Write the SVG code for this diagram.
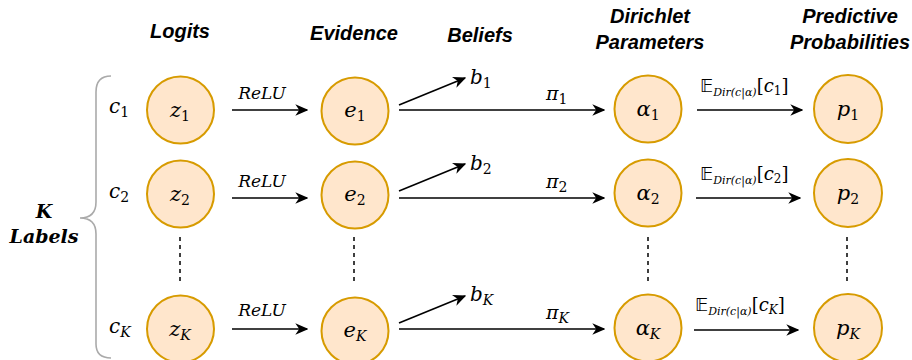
<svg xmlns="http://www.w3.org/2000/svg" width="912" height="360" viewBox="0 0 912 360">
<style>
.node{fill:#ffe6cc;stroke:#d79b00;stroke-width:2}
.m{font-family:"DejaVu Serif","Liberation Serif",serif;font-style:italic;fill:#000}
.n{font-family:"DejaVu Serif","Liberation Serif",serif;font-style:normal;fill:#000}
.kl{font-family:"DejaVu Serif","Liberation Serif",serif;font-style:italic;font-weight:bold;font-size:19px;text-anchor:middle;fill:#000}
.hdr{font-family:"Liberation Sans",Arial,sans-serif;font-weight:bold;font-style:italic;font-size:20px;text-anchor:middle;fill:#000}
.conn{stroke:#000;stroke-width:1.6;fill:none;marker-end:url(#ah)}
.dash{stroke:#000;stroke-width:1.5;stroke-dasharray:4 4;fill:none}
.lbl{text-anchor:middle}
</style>
<defs>
<marker id="ah" viewBox="0 0 10 10" refX="9" refY="5" markerWidth="13" markerHeight="13" markerUnits="userSpaceOnUse" orient="auto">
<path d="M0,0.5 L10,5 L0,9.5 L3,5 Z" fill="#000"/>
</marker>
</defs>
<rect width="912" height="360" fill="#fff"/>
<g id="headers">
<text class="hdr" x="180" y="38">Logits</text>
<text class="hdr" x="354" y="40">Evidence</text>
<text class="hdr" x="480" y="42">Beliefs</text>
<text class="hdr" x="650" y="23">Dirichlet</text>
<text class="hdr" x="650" y="49">Parameters</text>
<text class="hdr" x="850" y="23">Predictive</text>
<text class="hdr" x="850" y="49">Probabilities</text>
</g>
<g id="brace">
<path d="M111,76 Q96,76 96,92 L96,202 Q96,218 80,218 Q96,218 96,234 L96,344 Q96,358 111,358" fill="none" stroke="#aaaaaa" stroke-width="1.6"/>
<text class="kl" x="44" y="218">K</text>
<text class="kl" x="44" y="243">Labels</text>
</g>
<g id="class-labels">
<text class="m" x="109" y="113" font-size="20">c<tspan class="n" font-size="14" dy="4">1</tspan></text>
<text class="m" x="109" y="198" font-size="20">c<tspan class="n" font-size="14" dy="4">2</tspan></text>
<text class="m" x="109" y="333" font-size="20">c<tspan font-size="14" dy="4">K</tspan></text>
</g>
<g id="connectors">
<line class="conn" x1="232" y1="110" x2="307" y2="110"/>
<line class="conn" x1="232" y1="198" x2="307" y2="198"/>
<line class="conn" x1="232" y1="329" x2="307" y2="329"/>
<line class="conn" x1="399" y1="105" x2="465" y2="78"/>
<line class="conn" x1="399" y1="191" x2="465" y2="164"/>
<line class="conn" x1="399" y1="323" x2="465" y2="296"/>
<line class="conn" x1="399" y1="110" x2="604" y2="110"/>
<line class="conn" x1="399" y1="198" x2="604" y2="198"/>
<line class="conn" x1="399" y1="329" x2="604" y2="329"/>
<line class="conn" x1="697" y1="110" x2="802" y2="110"/>
<line class="conn" x1="696" y1="198" x2="800" y2="198"/>
<line class="conn" x1="694" y1="330" x2="798" y2="330"/>
<line class="dash" x1="180" y1="237" x2="180" y2="284"/>
<line class="dash" x1="354" y1="237" x2="354" y2="284"/>
<line class="dash" x1="648" y1="237" x2="648" y2="284"/>
<line class="dash" x1="847" y1="237" x2="847" y2="284"/>
</g>
<g id="edge-labels">
<text class="m lbl" x="262" y="99" font-size="17">ReLU</text>
<text class="m lbl" x="262" y="187" font-size="17">ReLU</text>
<text class="m lbl" x="262" y="316" font-size="17">ReLU</text>
<text class="m" x="470" y="84" font-size="20">b<tspan class="n" font-size="14" dy="4">1</tspan></text>
<text class="m" x="470" y="170" font-size="20">b<tspan class="n" font-size="14" dy="4">2</tspan></text>
<text class="m" x="470" y="301" font-size="20">b<tspan font-size="14" dy="4">K</tspan></text>
<text class="m" x="546" y="100" font-size="19">π<tspan class="n" font-size="14" dy="4">1</tspan></text>
<text class="m" x="546" y="188" font-size="19">π<tspan class="n" font-size="14" dy="4">2</tspan></text>
<text class="m" x="546" y="319" font-size="19">π<tspan font-size="14" dy="4">K</tspan></text>
<text class="n" x="700" y="92" font-size="18"><tspan font-family="DejaVu Sans,sans-serif">𝔼</tspan><tspan class="m" font-size="11" dy="4">Dir(c|α)</tspan><tspan dy="-4">[</tspan><tspan class="m">c</tspan><tspan font-size="12" dy="3">1</tspan><tspan dy="-3">]</tspan></text>
<text class="n" x="700" y="180" font-size="18"><tspan font-family="DejaVu Sans,sans-serif">𝔼</tspan><tspan class="m" font-size="11" dy="4">Dir(c|α)</tspan><tspan dy="-4">[</tspan><tspan class="m">c</tspan><tspan font-size="12" dy="3">2</tspan><tspan dy="-3">]</tspan></text>
<text class="n" x="695" y="311" font-size="18"><tspan font-family="DejaVu Sans,sans-serif">𝔼</tspan><tspan class="m" font-size="11" dy="4">Dir(c|α)</tspan><tspan dy="-4">[</tspan><tspan class="m">c</tspan><tspan class="m" font-size="12" dy="3">K</tspan><tspan dy="-3">]</tspan></text>
</g>
<g id="z1"><circle class="node" cx="180.5" cy="110" r="33.5"/><text class="m lbl" x="180" y="117" font-size="21">z<tspan class="n" font-size="14" dy="4">1</tspan></text></g>
<g id="z2"><circle class="node" cx="180.5" cy="194" r="33.5"/><text class="m lbl" x="180" y="201" font-size="21">z<tspan class="n" font-size="14" dy="4">2</tspan></text></g>
<g id="zK"><circle class="node" cx="180.5" cy="329" r="33.5"/><text class="m lbl" x="180" y="336" font-size="21">z<tspan font-size="14" dy="4">K</tspan></text></g>
<g id="e1"><circle class="node" cx="355" cy="111" r="33.5"/><text class="m lbl" x="355" y="117" font-size="21">e<tspan class="n" font-size="14" dy="4">1</tspan></text></g>
<g id="e2"><circle class="node" cx="355" cy="195" r="33.5"/><text class="m lbl" x="355" y="201" font-size="21">e<tspan class="n" font-size="14" dy="4">2</tspan></text></g>
<g id="eK"><circle class="node" cx="355" cy="331" r="33.5"/><text class="m lbl" x="355" y="337" font-size="21">e<tspan font-size="14" dy="4">K</tspan></text></g>
<g id="a1"><circle class="node" cx="648" cy="109" r="33.5"/><text class="m lbl" x="648" y="116" font-size="21">α<tspan class="n" font-size="14" dy="4">1</tspan></text></g>
<g id="a2"><circle class="node" cx="648" cy="193" r="33.5"/><text class="m lbl" x="648" y="200" font-size="21">α<tspan class="n" font-size="14" dy="4">2</tspan></text></g>
<g id="aK"><circle class="node" cx="648" cy="328" r="33.5"/><text class="m lbl" x="648" y="335" font-size="21">α<tspan font-size="14" dy="4">K</tspan></text></g>
<g id="p1"><circle class="node" cx="848" cy="109" r="34"/><text class="m lbl" x="848" y="116" font-size="21">p<tspan class="n" font-size="14" dy="4">1</tspan></text></g>
<g id="p2"><circle class="node" cx="848" cy="193" r="34"/><text class="m lbl" x="848" y="200" font-size="21">p<tspan class="n" font-size="14" dy="4">2</tspan></text></g>
<g id="pK"><circle class="node" cx="848" cy="328" r="34"/><text class="m lbl" x="848" y="335" font-size="21">p<tspan font-size="14" dy="4">K</tspan></text></g>
</svg>
